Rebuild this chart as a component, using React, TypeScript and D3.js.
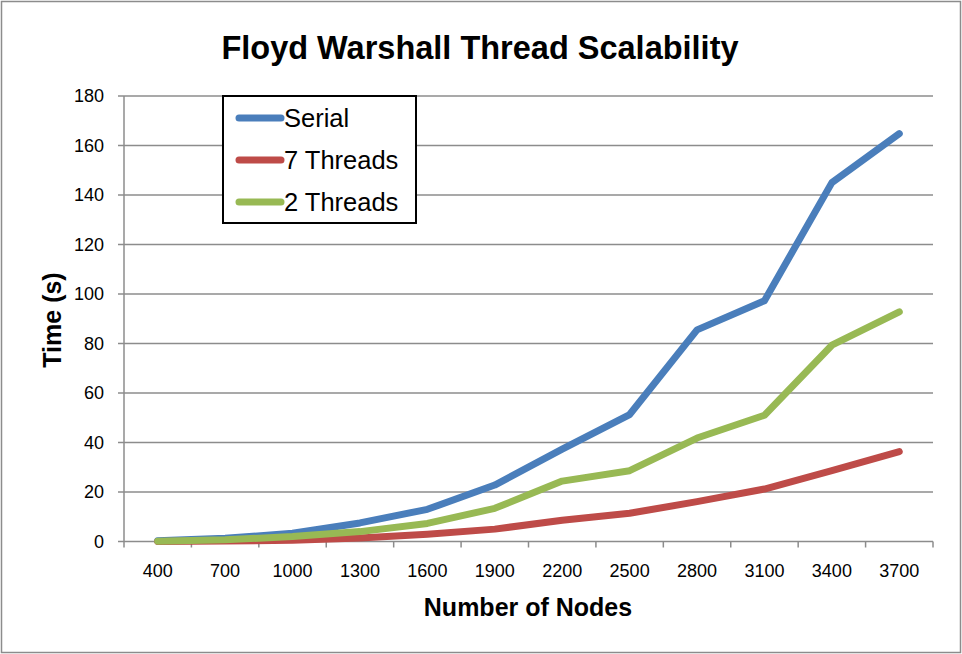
import React from "react";
import * as d3 from "d3";

const categories = ["400", "700", "1000", "1300", "1600", "1900", "2200", "2500", "2800", "3100", "3400", "3700"];
const serial = [0.3, 1.3, 3.3, 7.5, 13, 22.8, 37.3, 51.3, 85.5, 97.3, 145, 164.8];
const threads7 = [0, 0.2, 0.5, 1.4, 2.9, 5, 8.6, 11.4, 16.1, 21.2, 28.6, 36.3];
const threads2 = [0.1, 0.7, 2, 4, 7.3, 13.4, 24.4, 28.6, 41.8, 51, 79.3, 92.8];
const yTicks = [0, 20, 40, 60, 80, 100, 120, 140, 160, 180];
const seriesNames = ["Serial", "7 Threads", "2 Threads"];
const colors = ["#4a7ebb", "#be4b48", "#98b954"];

export default function App() {
  const W = 962, H = 654;
  const left = 124, right = 933, top = 96, bottom = 541.5;
  const x = d3.scaleBand<string>().domain(categories).range([left, right]);
  const y = d3.scaleLinear().domain([0, 180]).range([bottom, top]);
  const line = d3
    .line<number>()
    .x((_, i) => (x(categories[i]) as number) + x.bandwidth() / 2)
    .y((d) => y(d))
    .curve(d3.curveLinear);
  const allSeries = [serial, threads7, threads2];
  const font = "'Liberation Sans', Arial, sans-serif";
  const grid = "#8c8c8c";
  const boundaries = categories.map((c) => x(c) as number).concat([right]);

  return (
    <svg width={W} height={H} style={{ position: "absolute", left: 0, top: 0 }} fontFamily={font}>
      <rect x={0} y={0} width={W} height={H} fill="#fff" />
      <rect x={1.5} y={1.5} width={W - 3} height={H - 3} fill="none" stroke="#8c8c8c" strokeWidth={1.5} />
      <text x={480} y={59} textAnchor="middle" fontSize={32.5} fontWeight="bold" fill="#000">
        Floyd Warshall Thread Scalability
      </text>
      {yTicks.map((t) => (
        <g key={t}>
          <line x1={left - 6} x2={right} y1={y(t)} y2={y(t)} stroke={grid} strokeWidth={1.5} />
          <text x={104} y={y(t)} dy="0.35em" textAnchor="end" fontSize={18} fill="#000">
            {t}
          </text>
        </g>
      ))}
      <line x1={left} x2={left} y1={top} y2={bottom} stroke={grid} strokeWidth={1.5} />
      {boundaries.map((b, i) => (
        <line key={i} x1={b} x2={b} y1={bottom} y2={bottom + 6} stroke={grid} strokeWidth={1.5} />
      ))}
      {categories.map((c) => (
        <text key={c} x={(x(c) as number) + x.bandwidth() / 2} y={577} textAnchor="middle" fontSize={18} fill="#000">
          {c}
        </text>
      ))}
      <text x={528} y={616} textAnchor="middle" fontSize={25} fontWeight="bold" fill="#000">
        Number of Nodes
      </text>
      <text
        transform={`translate(61,320) rotate(-90)`}
        textAnchor="middle"
        fontSize={25}
        fontWeight="bold"
        fill="#000"
      >
        Time (s)
      </text>
      {allSeries.map((s, i) => (
        <path
          key={i}
          d={line(s) || ""}
          fill="none"
          stroke={colors[i]}
          strokeWidth={7}
          strokeLinecap="round"
          strokeLinejoin="round"
        />
      ))}
      <rect x={223} y={96} width={193} height={127} fill="#fff" stroke="#000" strokeWidth={2} />
      {seriesNames.map((n, i) => (
        <g key={n}>
          <line x1={239} x2={281} y1={118 + i * 42} y2={118 + i * 42} stroke={colors[i]} strokeWidth={7} strokeLinecap="round" />
          <text x={284} y={118 + i * 42 + 9} fontSize={25.5} fill="#000">
            {n}
          </text>
        </g>
      ))}
    </svg>
  );
}
